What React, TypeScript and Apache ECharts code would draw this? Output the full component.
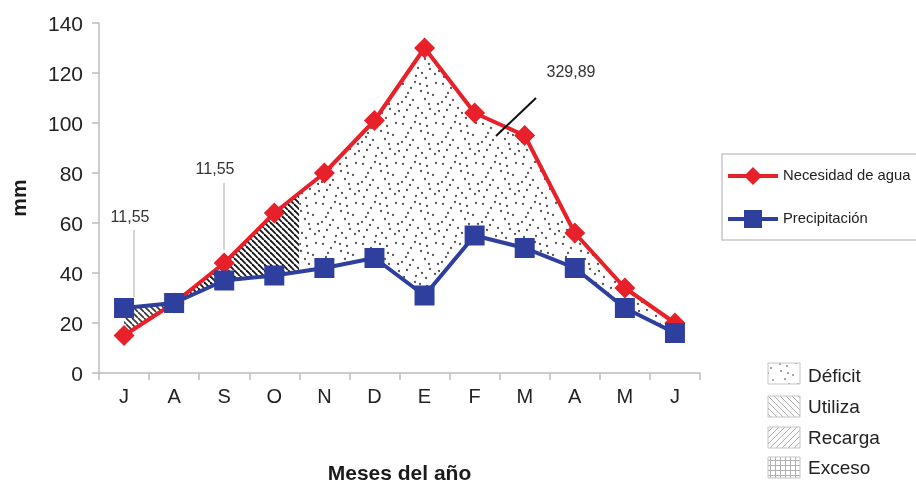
import { useEffect, useRef } from 'react';
import * as echarts from 'echarts';

const months = ['J', 'A', 'S', 'O', 'N', 'D', 'E', 'F', 'M', 'A', 'M', 'J'];
const necesidad = [15, 28, 44, 64, 80, 101, 130, 104, 95, 56, 34, 20];
const precipitacion = [26, 28, 37, 39, 42, 46, 31, 55, 50, 42, 26, 16];
const yMin = 0;
const yMax = 140;
const yStep = 20;
const fillRegions = [
  { key: 'recarga', from: 0, to: 1 },
  { key: 'utiliza', from: 1, to: 3.5 },
  { key: 'deficit', from: 3.5, to: 11 },
];
const seriesNames = ['Necesidad de agua', 'Precipitación'];
const fillNames = ['Déficit', 'Utiliza', 'Recarga', 'Exceso'];
const annotationTexts = ['11,55', '11,55', '329,89'];

const RED = '#e8202a';
const BLUE = '#2e3f9d';
const FONT = "'Liberation Sans', Arial, sans-serif";

const dotSpots = [
  [3, 4], [15, 2], [27, 6], [36, 3], [8, 13], [21, 11], [33, 15], [2, 22], [13, 20], [25, 19],
  [38, 24], [7, 30], [18, 28], [30, 29], [4, 37], [16, 36], [26, 38], [35, 34], [11, 8], [29, 24],
  [20, 4], [6, 17], [28, 13], [10, 25], [22, 33], [39, 31],
];

function tile(size: number, draw: (ctx: CanvasRenderingContext2D, s: number) => void) {
  const c = document.createElement('canvas');
  c.width = size;
  c.height = size;
  const ctx = c.getContext('2d') as CanvasRenderingContext2D;
  ctx.fillStyle = '#ffffff';
  ctx.fillRect(0, 0, size, size);
  draw(ctx, size);
  return { image: c.toDataURL(), imageWidth: size, imageHeight: size, repeat: 'repeat' };
}

function dots(color: string, r: number) {
  return tile(40, (ctx) => {
    ctx.fillStyle = color;
    dotSpots.forEach(([x, y]) => {
      ctx.beginPath();
      ctx.arc(x, y, r, 0, Math.PI * 2);
      ctx.fill();
    });
  });
}

function hatch(color: string, width: number, size: number, back: boolean) {
  return tile(size, (ctx, s) => {
    ctx.strokeStyle = color;
    ctx.lineWidth = width;
    [-1, 0, 1].forEach((k) => {
      ctx.beginPath();
      if (back) {
        ctx.moveTo(k * s, 0);
        ctx.lineTo(k * s + s, s);
      } else {
        ctx.moveTo(k * s, s);
        ctx.lineTo(k * s + s, 0);
      }
      ctx.stroke();
    });
  });
}

function grid(color: string, size: number) {
  return tile(size, (ctx, s) => {
    ctx.strokeStyle = color;
    ctx.lineWidth = 1;
    ctx.beginPath();
    ctx.moveTo(0.5, 0);
    ctx.lineTo(0.5, s);
    ctx.moveTo(0, 0.5);
    ctx.lineTo(s, 0.5);
    ctx.stroke();
  });
}

function interp(arr: number[], x: number) {
  const i = Math.floor(x);
  if (i >= arr.length - 1) return arr[arr.length - 1];
  const t = x - i;
  return arr[i] * (1 - t) + arr[i + 1] * t;
}

export default function App() {
  const ref = useRef<HTMLDivElement>(null);
  useEffect(() => {
    if (!ref.current) return;
    const chart = echarts.init(ref.current, null, { renderer: 'svg' });

    const chartPatterns: Record<string, any> = {
      deficit: dots('#555555', 1.15),
      utiliza: hatch('#1a1a1a', 1.9, 6, true),
      recarga: hatch('#3a3a3a', 1.7, 6, true),
    };
    const legendPatterns = [
      dots('#8a8a8a', 1),
      hatch('#b0b0b0', 1, 6, true),
      hatch('#b0b0b0', 1, 6, false),
      grid('#b0b0b0', 5),
    ];

    const textStyle = (text: string, x: number, y: number, size: number, extra: any = {}) => ({
      type: 'text',
      x,
      y,
      style: {
        text,
        fontSize: size,
        fontFamily: FONT,
        fill: '#222',
        align: 'left',
        verticalAlign: 'middle',
        ...extra,
      },
    });

    const graphic: any[] = [
      {
        type: 'rect',
        shape: { x: 722, y: 154, width: 230, height: 86 },
        style: { fill: '#fff', stroke: '#c8c8c8', lineWidth: 1.5 },
      },
      { type: 'line', shape: { x1: 728, y1: 176, x2: 778, y2: 176 }, style: { stroke: RED, lineWidth: 4 } },
      {
        type: 'polygon',
        shape: { points: [[753, 167], [762, 176], [753, 185], [744, 176]] },
        style: { fill: RED },
      },
      textStyle(seriesNames[0], 783, 175, 14.8),
      { type: 'line', shape: { x1: 728, y1: 219, x2: 778, y2: 219 }, style: { stroke: BLUE, lineWidth: 4 } },
      { type: 'rect', shape: { x: 744, y: 210, width: 18, height: 18 }, style: { fill: BLUE } },
      textStyle(seriesNames[1], 783, 218, 14.8),
    ];

    const swY = [363, 396, 427, 457];
    const txY = [375, 406, 437, 467];
    fillNames.forEach((n, i) => {
      graphic.push({
        type: 'rect',
        shape: { x: 768, y: swY[i], width: 32, height: 21 },
        style: { fill: legendPatterns[i], stroke: '#c4c4c4', lineWidth: 1 },
      });
      graphic.push(textStyle(n, 808, txY[i], 19));
    });

    graphic.push(textStyle(annotationTexts[0], 130, 216, 16, { align: 'center', fill: '#333' }));
    graphic.push({ type: 'line', shape: { x1: 134, y1: 230, x2: 134, y2: 297 }, style: { stroke: '#aaa', lineWidth: 1 } });
    graphic.push(textStyle(annotationTexts[1], 215, 168, 16, { align: 'center', fill: '#333' }));
    graphic.push({ type: 'line', shape: { x1: 224, y1: 183, x2: 224, y2: 250 }, style: { stroke: '#aaa', lineWidth: 1 } });
    graphic.push(textStyle(annotationTexts[2], 571, 71, 16, { align: 'center', fill: '#333' }));
    graphic.push({
      type: 'line',
      shape: { x1: 536, y1: 98, x2: 496, y2: 136 },
      style: { stroke: '#111', lineWidth: 2 },
      z: 100,
    });

    const option: any = {
      animation: false,
      grid: { left: 98, top: 23, right: 216, bottom: 115, containLabel: false },
      xAxis: [
        {
          type: 'category',
          data: months,
          boundaryGap: true,
          name: 'Meses del año',
          nameLocation: 'middle',
          nameGap: 89,
          nameTextStyle: { fontSize: 21, fontWeight: 'bold', color: '#1a1a1a', fontFamily: FONT },
          axisLine: { onZero: false, lineStyle: { color: '#bdbdbd', width: 1.5 } },
          axisTick: { show: true, length: 7, lineStyle: { color: '#bdbdbd', width: 1.5 } },
          axisLabel: { fontSize: 20, color: '#222', margin: 13, fontFamily: FONT },
        },
        { type: 'value', min: -0.5, max: 11.5, show: false },
      ],
      yAxis: {
        type: 'value',
        min: yMin,
        max: yMax,
        interval: yStep,
        name: 'mm',
        nameLocation: 'middle',
        nameGap: 70,
        nameRotate: 90,
        nameTextStyle: { fontSize: 21, fontWeight: 'bold', color: '#1a1a1a', fontFamily: FONT },
        axisLine: { show: true, onZero: false, lineStyle: { color: '#bdbdbd', width: 1.5 } },
        axisTick: { show: true, length: 7, lineStyle: { color: '#bdbdbd', width: 1.5 } },
        splitLine: { show: false },
        axisLabel: { fontSize: 21, color: '#222', margin: 16, fontFamily: FONT },
      },
      graphic,
      series: [
        {
          type: 'custom',
          name: 'fills',
          xAxisIndex: 1,
          yAxisIndex: 0,
          z: 1,
          silent: true,
          data: fillRegions.map((r) => [r.from, 0, r.to]),
          encode: { x: [0, 2], y: 1 },
          renderItem: (params: any, api: any) => {
            const r = fillRegions[params.dataIndex];
            const xs: number[] = [r.from];
            for (let i = Math.floor(r.from) + 1; i < r.to; i++) xs.push(i);
            xs.push(r.to);
            const top = xs.map((x) => api.coord([x, interp(necesidad, x)]));
            const bot = xs
              .slice()
              .reverse()
              .map((x) => api.coord([x, interp(precipitacion, x)]));
            return {
              type: 'polygon',
              shape: { points: top.concat(bot) },
              style: { fill: chartPatterns[r.key], stroke: 'none' },
            };
          },
        },
        {
          type: 'line',
          name: seriesNames[0],
          data: necesidad,
          z: 3,
          symbol: 'diamond',
          symbolSize: 21,
          itemStyle: { color: RED },
          lineStyle: { color: RED, width: 4 },
        },
        {
          type: 'line',
          name: seriesNames[1],
          data: precipitacion,
          z: 4,
          symbol: 'rect',
          symbolSize: 20,
          itemStyle: { color: BLUE },
          lineStyle: { color: BLUE, width: 4 },
        },
      ],
    };
    chart.setOption(option);
    return () => chart.dispose();
  }, []);
  return <div ref={ref} style={{ position: 'fixed', left: 0, top: 0, width: 916, height: 488 }} />;
}
